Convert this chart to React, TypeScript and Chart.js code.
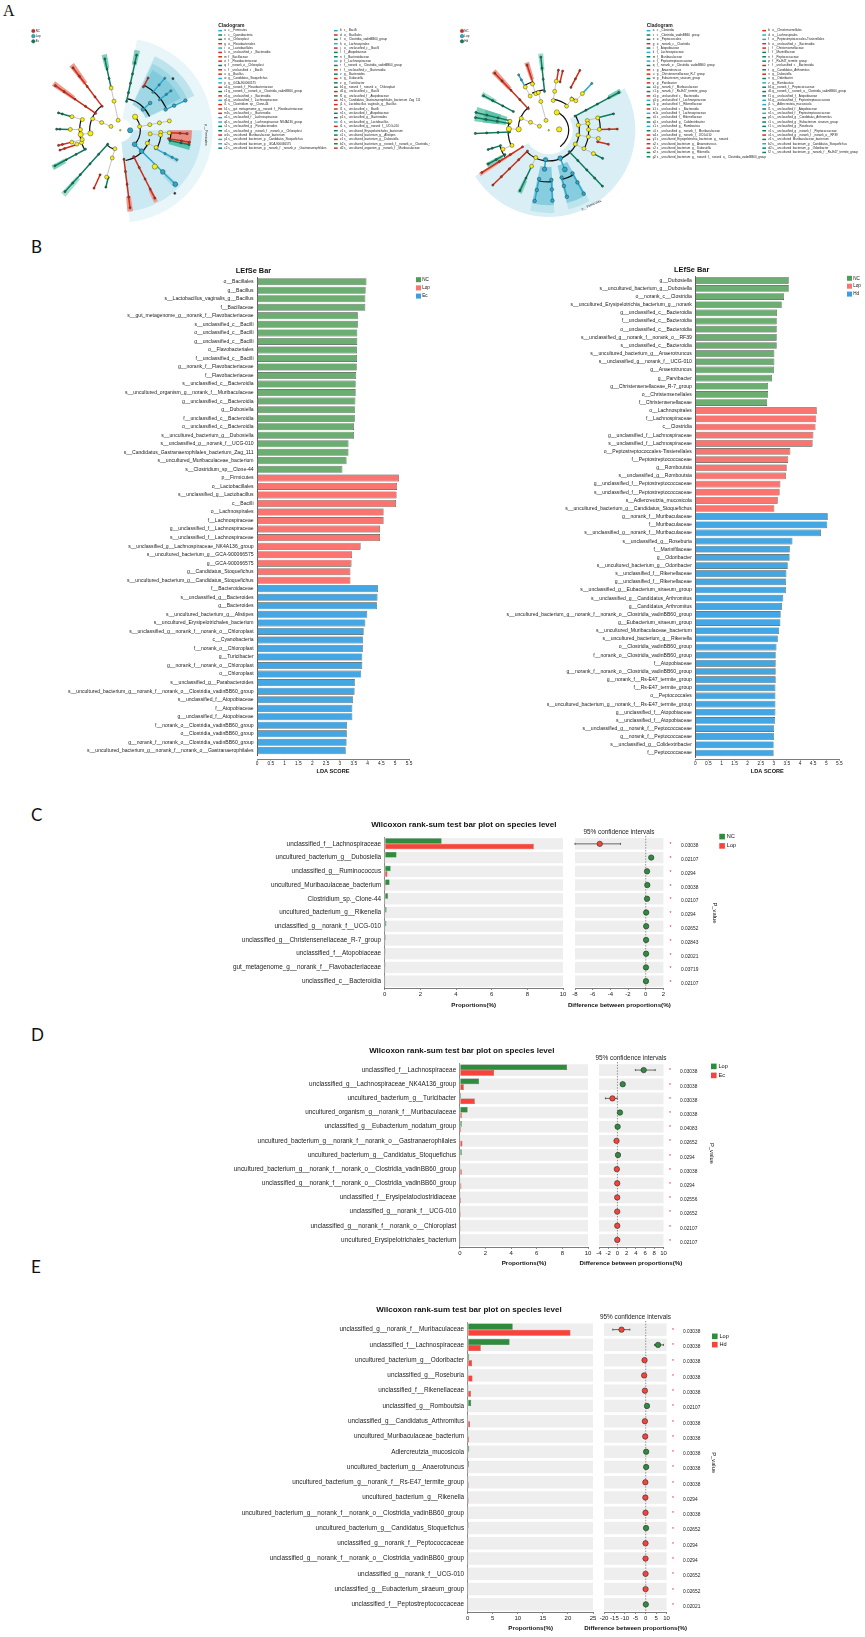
import React, { useEffect, useRef } from "react";
import { Chart, registerables } from "chart.js";

Chart.register(...registerables);
Chart.defaults.font.family = '"Liberation Sans", Arial, sans-serif';
Chart.defaults.color = "#222";

// ---------- Panel B: LEfSe, left ----------
const leftNcLabels = ["o__Bacillales","g__Bacillus","s__Lactobacillus_vaginalis_g__Bacillus","f__Bacillaceae","s__gut_metagenome_g__norank_f__Flavobacteriaceae","s__unclassified_c__Bacilli","o__unclassified_c__Bacilli","g__unclassified_c__Bacilli","o__Flavobacteriales","f__unclassified_c__Bacilli","g__norank_f__Flavobacteriaceae","f__Flavobacteriaceae","s__unclassified_c__Bacteroidia","s__uncultured_organism_g__norank_f__Muribaculaceae","g__unclassified_c__Bacteroidia","g__Dubosiella","f__unclassified_c__Bacteroidia","o__unclassified_c__Bacteroidia","s__uncultured_bacterium_g__Dubosiella","s__unclassified_g__norank_f__UCG-010","s__Candidatus_Gastranaerophilales_bacterium_Zag_111","s__uncultured_Muribaculaceae_bacterium","s__Clostridium_sp__Clone-44"];
const leftNcValues = [3.96,3.93,3.92,3.92,3.65,3.65,3.63,3.63,3.62,3.62,3.61,3.59,3.57,3.57,3.56,3.54,3.54,3.51,3.51,3.31,3.31,3.24,3.09];
const leftLopLabels = ["p__Firmicutes","o__Lactobacillales","s__unclassified_g__Lactobacillus","c__Bacilli","o__Lachnospirales","f__Lachnospiraceae","g__unclassified_f__Lachnospiraceae","s__unclassified_f__Lachnospiraceae","s__unclassified_g__Lachnospiraceae_NK4A136_group","s__uncultured_bacterium_g__GCA-900066575","g__GCA-900066575","g__Candidatus_Stoquefichus","s__uncultured_bacterium_g__Candidatus_Stoquefichus"];
const leftLopValues = [5.14,5.07,5.05,5.03,4.58,4.58,4.45,4.45,3.75,3.44,3.42,3.38,3.38];
const leftEcLabels = ["f__Bacteroidaceae","s__unclassified_g__Bacteroides","g__Bacteroides","s__uncultured_bacterium_g__Alistipes","s__uncultured_Erysipelotrichales_bacterium","s__unclassified_g__norank_f__norank_o__Chloroplast","c__Cyanobacteria","f__norank_o__Chloroplast","g__Turicibacter","g__norank_f__norank_o__Chloroplast","o__Chloroplast","s__unclassified_g__Parabacteroides","s__uncultured_bacterium_g__norank_f__norank_o__Clostridia_vadinBB60_group","s__unclassified_f__Atopobiaceae","f__Atopobiaceae","g__unclassified_f__Atopobiaceae","f__norank_o__Clostridia_vadinBB60_group","o__Clostridia_vadinBB60_group","g__norank_f__norank_o__Clostridia_vadinBB60_group","s__uncultured_bacterium_g__norank_f__norank_o__Gastranaerophilales"];
const leftEcValues = [4.38,4.36,4.34,3.99,3.92,3.86,3.84,3.83,3.81,3.81,3.77,3.54,3.53,3.47,3.45,3.45,3.26,3.25,3.24,3.21];

// ---------- Panel B: LEfSe, right ----------
const rightNcLabels = ["g__Dubosiella","s__uncultured_bacterium_g__Dubosiella","o__norank_c__Clostridia","s__uncultured_Erysipelotrichia_bacterium_g__norank","g__unclassified_c__Bacteroidia","f__unclassified_c__Bacteroidia","o__unclassified_c__Bacteroidia","s__unclassified_g__norank_f__norank_o__RF39","s__unclassified_c__Bacteroidia","s__uncultured_bacterium_g__Anaerotruncus","s__unclassified_g__norank_f__UCG-010","g__Anaerotruncus","g__Parvibacter","g__Christensenellaceae_R-7_group","o__Christensenellales","f__Christensenellaceae"];
const rightNcValues = [3.57,3.57,3.39,3.3,3.12,3.11,3.11,3.11,3.11,3.02,3.02,3.01,2.93,2.78,2.78,2.74];
const rightLopLabels = ["o__Lachnospirales","f__Lachnospiraceae","c__Clostridia","g__unclassified_f__Lachnospiraceae","s__unclassified_f__Lachnospiraceae","o__Peptostreptococcales-Tissierellales","f__Peptostreptococcaceae","g__Romboutsia","s__unclassified_g__Romboutsia","g__unclassified_f__Peptostreptococcaceae","s__unclassified_f__Peptostreptococcaceae","s__Adlercreutzia_mucosicola","s__uncultured_bacterium_g__Candidatus_Stoquefichus"];
const rightLopValues = [4.64,4.62,4.59,4.51,4.48,3.63,3.55,3.49,3.46,3.25,3.22,3.15,3.02];
const rightHdLabels = ["g__norank_f__Muribaculaceae","f__Muribaculaceae","s__unclassified_g__norank_f__Muribaculaceae","s__unclassified_g__Roseburia","f__Marinifilaceae","g__Odoribacter","s__uncultured_bacterium_g__Odoribacter","s__unclassified_f__Rikenellaceae","g__unclassified_f__Rikenellaceae","s__unclassified_g__Eubacterium_siraeum_group","s__unclassified_g__Candidatus_Arthromitus","g__Candidatus_Arthromitus","s__uncultured_bacterium_g__norank_f__norank_o__Clostridia_vadinBB60_group","g__Eubacterium_siraeum_group","s__uncultured_Muribaculaceae_bacterium","s__uncultured_bacterium_g__Rikenella","o__Clostridia_vadinBB60_group","f__norank_o__Clostridia_vadinBB60_group","f__Atopobiaceae","g__norank_f__norank_o__Clostridia_vadinBB60_group","g__norank_f__Rs-E47_termite_group","f__Rs-E47_termite_group","o__Peptococcales","s__uncultured_bacterium_g__norank_f__Rs-E47_termite_group","g__unclassified_f__Atopobiaceae","s__unclassified_f__Atopobiaceae","s__unclassified_g__norank_f__Peptococcaceae","g__norank_f__Peptococcaceae","s__unclassified_g__Colidextribacter","f__Peptococcaceae"];
const rightHdValues = [5.06,5.04,4.8,3.71,3.61,3.6,3.53,3.48,3.46,3.46,3.36,3.31,3.26,3.25,3.2,3.15,3.1,3.07,3.07,3.07,3.07,3.06,3.06,3.06,3.06,3.05,3.01,3.01,2.99,2.99];

// ---------- Panel C ----------
const cLabels = ["unclassified_f__Lachnospiraceae","uncultured_bacterium_g__Dubosiella","unclassified_g__Ruminococcus","uncultured_Muribaculaceae_bacterium","Clostridium_sp._Clone-44","uncultured_bacterium_g__Rikenella","unclassified_g__norank_f__UCG-010","unclassified_g__Christensenellaceae_R-7_group","unclassified_f__Atopobiaceae","gut_metagenome_g__norank_f__Flavobacteriaceae","unclassified_c__Bacteroidia"];
const cFirst = [3.19,0.66,0.33,0.27,0.18,0.1,0.09,0.06,0.05,0.05,0.04];
const cSecond = [8.36,0.02,0.15,0.05,0.01,0.01,0.01,0.01,0.01,0.01,0.01];
const cDiff = [-5.2,0.62,0.15,0.18,0.15,0.05,0.05,0.04,0.04,0.03,0.03];
const cLow = [-8,0.5,0.05,0.08,0.08,0.02,0.02,0.02,0.02,0.01,0.01];
const cHigh = [-2.85,0.8,0.25,0.28,0.22,0.08,0.08,0.06,0.06,0.05,0.05];
const cP = ["0.03038","0.02107","0.0294","0.03038","0.02107","0.0294","0.02652","0.02843","0.02021","0.03719","0.02107"];

// ---------- Panel D ----------
const dLabels = ["unclassified_f__Lachnospiraceae","unclassified_g__Lachnospiraceae_NK4A136_group","uncultured_bacterium_g__Turicibacter","uncultured_organism_g__norank_f__Muribaculaceae","unclassified_g__Eubacterium_nodatum_group","uncultured_bacterium_g__norank_f__norank_o__Gastranaerophilales","uncultured_bacterium_g__Candidatus_Stoquefichus","uncultured_bacterium_g__norank_f__norank_o__Clostridia_vadinBB60_group","unclassified_g__norank_f__norank_o__Clostridia_vadinBB60_group","unclassified_f__Erysipelatoclostridiaceae","unclassified_g__norank_f__UCG-010","unclassified_g__norank_f__norank_o__Chloroplast","uncultured_Erysipelotrichales_bacterium"];
const dFirst = [8.37,1.5,0.1,0.61,0.15,0.03,0.15,0.02,0.02,0.02,0.02,0.02,0.02];
const dSecond = [2.67,0.31,1.17,0.15,0.1,0.2,0.02,0.15,0.12,0.1,0.08,0.07,0.06];
const dDiff = [5.7,1.15,-1.08,0.55,0.04,-0.2,0.12,-0.13,-0.05,-0.05,-0.05,-0.04,-0.03];
const dLow = [3.9,0.85,-2.6,0.35,-0.02,-0.3,0.05,-0.2,-0.1,-0.1,-0.1,-0.08,-0.06];
const dHigh = [8.2,1.45,-0.05,0.75,0.1,-0.1,0.2,-0.06,-0.01,-0.01,-0.01,-0.01,-0.01];
const dP = ["0.03038","0.03038","0.03038","0.03038","0.04083","0.02652","0.0294","0.03038","0.0294","0.02556","0.02652","0.02107","0.02107"];

// ---------- Panel E ----------
const eLabels = ["unclassified_g__norank_f__Muribaculaceae","unclassified_f__Lachnospiraceae","uncultured_bacterium_g__Odoribacter","unclassified_g__Roseburia","unclassified_f__Rikenellaceae","unclassified_g__Romboutsia","unclassified_g__Candidatus_Arthromitus","uncultured_Muribaculaceae_bacterium","Adlercreutzia_mucosicola","uncultured_bacterium_g__Anaerotruncus","uncultured_bacterium_g__norank_f__Rs-E47_termite_group","uncultured_bacterium_g__Rikenella","uncultured_bacterium_g__norank_f__norank_o__Clostridia_vadinBB60_group","uncultured_bacterium_g__Candidatus_Stoquefichus","unclassified_g__norank_f__Peptococcaceae","unclassified_g__norank_f__norank_o__Clostridia_vadinBB60_group","unclassified_g__norank_f__UCG-010","unclassified_g__Eubacterium_siraeum_group","unclassified_f__Peptostreptococcaceae"];
const eFirst = [8.98,8.35,0.3,0.16,0.16,0.7,0.08,0.05,0.3,0.25,0.03,0.03,0.03,0.2,0.03,0.03,0.03,0.03,0.08];
const eSecond = [20.5,2.6,0.87,0.95,0.63,0.1,0.47,0.28,0.03,0.03,0.22,0.2,0.15,0.03,0.12,0.12,0.1,0.1,0.02];
const eDiff = [-11.6,5.9,-0.57,-0.76,-0.4,0.6,-0.4,-0.25,0.2,0.2,-0.18,-0.18,-0.1,0.15,-0.1,-0.1,-0.08,-0.08,0.05];
const eLow = [-15.8,4.2,-0.9,-1.1,-0.6,0.3,-0.6,-0.4,0.1,0.1,-0.3,-0.3,-0.2,0.05,-0.2,-0.2,-0.15,-0.15,0.01];
const eHigh = [-7.6,8.5,-0.3,-0.4,-0.2,0.9,-0.2,-0.1,0.3,0.3,-0.1,-0.1,-0.05,0.25,-0.05,-0.05,-0.03,-0.03,0.1];
const eP = ["0.03038","0.03038","0.03038","0.03038","0.03038","0.02107","0.03038","0.03038","0.03038","0.03038","0.03038","0.0294","0.03038","0.02652","0.0294","0.0294","0.02652","0.02652","0.02021"];

// ---------- Panel A: legend rows [colour key, code, taxon] ----------
const leftCladeCol1 = [["b","a","c__Firmicutes"],["g","c","c__Cyanobacteria"],["g","e","o__Chloroplast"],["r","g","o__Flavobacteriales"],["b","i","o__Lactobacillales"],["r","k","o__unclassified_c__Bacteroidia"],["r","m","f__Bacillaceae"],["r","o","f__Flavobacteriaceae"],["g","q","f__norank_o__Chloroplast"],["r","s","f__unclassified_c__Bacilli"],["r","u","g__Bacillus"],["b","w","g__Candidatus_Stoquefichus"],["b","y","g__GCA-900066575"],["r","a1","g__norank_f__Flavobacteriaceae"],["g","c1","g__norank_f__norank_o__Clostridia_vadinBB60_group"],["r","e1","g__unclassified_c__Bacteroidia"],["b","g1","g__unclassified_f__Lachnospiraceae"],["r","i1","s__Clostridium_sp__Clone-44"],["r","k1","s__gut_metagenome_g__norank_f__Flavobacteriaceae"],["r","m1","s__unclassified_c__Bacteroidia"],["b","o1","s__unclassified_f__Lachnospiraceae"],["b","q1","s__unclassified_g__Lachnospiraceae_NK4A136_group"],["g","s1","s__unclassified_g__Parabacteroides"],["g","u1","s__unclassified_g__norank_f__norank_o__Chloroplast"],["r","w1","s__uncultured_Muribaculaceae_bacterium"],["b","y1","s__uncultured_bacterium_g__Candidatus_Stoquefichus"],["b","a2","s__uncultured_bacterium_g__GCA-900066575"],["g","c2","s__uncultured_bacterium_g__norank_f__norank_o__Gastranaerophilales"]];
const leftCladeCol2 = [["b","b","c__Bacilli"],["r","d","o__Bacillales"],["g","f","o__Clostridia_vadinBB60_group"],["b","h","o__Lachnospirales"],["r","j","o__unclassified_c__Bacilli"],["g","l","f__Atopobiaceae"],["g","n","f__Bacteroidaceae"],["b","p","f__Lachnospiraceae"],["g","r","f__norank_o__Clostridia_vadinBB60_group"],["r","t","f__unclassified_c__Bacteroidia"],["g","v","g__Bacteroides"],["r","x","g__Dubosiella"],["g","z","g__Turicibacter"],["g","b1","g__norank_f__norank_o__Chloroplast"],["r","d1","g__unclassified_c__Bacilli"],["g","f1","g__unclassified_f__Atopobiaceae"],["r","h1","s__Candidatus_Gastranaerophilales_bacterium_Zag_111"],["r","j1","s__Lactobacillus_vaginalis_g__Bacillus"],["r","l1","s__unclassified_c__Bacilli"],["g","n1","s__unclassified_f__Atopobiaceae"],["g","p1","s__unclassified_g__Bacteroides"],["b","r1","s__unclassified_g__Lactobacillus"],["r","t1","s__unclassified_g__norank_f__UCG-010"],["g","v1","s__uncultured_Erysipelotrichales_bacterium"],["g","x1","s__uncultured_bacterium_g__Alistipes"],["r","z1","s__uncultured_bacterium_g__Dubosiella"],["g","b2","s__uncultured_bacterium_g__norank_f__norank_o__Clostridia_vadinBB60_group"],["r","d2","s__uncultured_organism_g__norank_f__Muribaculaceae"]];
const rightCladeCol1 = [["b","a","c__Clostridia"],["g","c","c__Clostridia_vadinBB60_group"],["g","e","o__Peptococcales"],["r","g","o__norank_c__Clostridia"],["g","i","f__Atopobiaceae"],["b","k","f__Lachnospiraceae"],["g","m","f__Muribaculaceae"],["b","o","f__Peptostreptococcaceae"],["g","q","f__norank_o__Clostridia_vadinBB60_group"],["r","s","g__Anaerotruncus"],["r","u","g__Christensenellaceae_R-7_group"],["g","w","g__Eubacterium_siraeum_group"],["r","y","g__Parvibacter"],["g","a1","g__norank_f__Muribaculaceae"],["g","c1","g__norank_f__Rs-E47_termite_group"],["r","e1","g__unclassified_c__Bacteroidia"],["b","g1","g__unclassified_f__Lachnospiraceae"],["g","i1","g__unclassified_f__Rikenellaceae"],["r","k1","s__unclassified_c__Bacteroidia"],["b","m1","s__unclassified_f__Lachnospiraceae"],["g","o1","s__unclassified_f__Rikenellaceae"],["g","q1","s__unclassified_g__Colidextribacter"],["b","s1","s__unclassified_g__Romboutsia"],["g","u1","s__unclassified_g__norank_f__Muribaculaceae"],["r","w1","s__unclassified_g__norank_f__UCG-010"],["r","y1","s__uncultured_Erysipelotrichia_bacterium_g__norank"],["r","a2","s__uncultured_bacterium_g__Anaerotruncus"],["r","c2","s__uncultured_bacterium_g__Dubosiella"],["g","e2","s__uncultured_bacterium_g__Rikenella"],["g","g2","s__uncultured_bacterium_g__norank_f__norank_o__Clostridia_vadinBB60_group"]];
const rightCladeCol2 = [["r","b","o__Christensenellales"],["b","d","o__Lachnospirales"],["b","f","o__Peptostreptococcales-Tissierellales"],["r","h","o__unclassified_c__Bacteroidia"],["r","j","f__Christensenellaceae"],["g","l","f__Marinifilaceae"],["g","n","f__Peptococcaceae"],["g","p","f__Rs-E47_termite_group"],["r","r","f__unclassified_c__Bacteroidia"],["g","t","g__Candidatus_Arthromitus"],["r","v","g__Dubosiella"],["g","x","g__Odoribacter"],["b","z","g__Romboutsia"],["g","b1","g__norank_f__Peptococcaceae"],["g","d1","g__norank_f__norank_o__Clostridia_vadinBB60_group"],["g","f1","g__unclassified_f__Atopobiaceae"],["b","h1","g__unclassified_f__Peptostreptococcaceae"],["b","j1","s__Adlercreutzia_mucosicola"],["g","l1","s__unclassified_f__Atopobiaceae"],["b","n1","s__unclassified_f__Peptostreptococcaceae"],["g","p1","s__unclassified_g__Candidatus_Arthromitus"],["g","r1","s__unclassified_g__Eubacterium_siraeum_group"],["g","t1","s__unclassified_g__Roseburia"],["g","v1","s__unclassified_g__norank_f__Peptococcaceae"],["r","x1","s__unclassified_g__norank_f__norank_o__RF39"],["g","z1","s__uncultured_Muribaculaceae_bacterium"],["b","b2","s__uncultured_bacterium_g__Candidatus_Stoquefichus"],["g","d2","s__uncultured_bacterium_g__Odoribacter"],["g","f2","s__uncultured_bacterium_g__norank_f__Rs-E47_termite_group"]];

// ---------- Panel A: tree. Rays [angle, node radii, kind, node size]; arcs [from, to, radius]; sectors [from, to, r0, r1, colour] ----------
const leftStems: any[] = [[0,[0],"y",0.8],[102,[32,93,135],"y"],[157,[31,62,92],"y"],[186,[92,122],"y",2.6],[164,[121,154],"y"],[179,[122,153],"y"],[194,[120,153],"y"],[198,[125,140],"y"],[254,[60,90,152],"y"],[11,[60,92,122,153],"y"],[-26,[92,122],"y"],[-7,[92,124],"y"],[-3,[124,150],"y"],[43,[62],"y",2.6],[-47,[155],"y",2.6]];
const leftRays: any[] = [[78,[92,120,150,180,215,240],"g"],[102,[135,165,195,228],"g"],[126.6,[93,130,170,210,243],"r"],[145,[92,130,170,210,243],"r"],[164,[154,185,197],"g"],[179,[153,185,195],"g"],[194,[153,183,195],"r"],[198.5,[140,180,195],"r"],[209,[122,155,190,229],"g"],[228.5,[58,100,140,185,220,256],"g"],[246,[152,198],"r"],[256,[152,183],"g"],[62.5,[153,184],"r"],[50,[155,185,212],"b"],[38.5,[153,180,198],"b"],[25,[153,182,220],"b",1.8],[43,[95,125],"b",1.8],[-45,[62,92,184,238],"b",2.4],[-83,[91,130,170,210,244],"r"],[-63.5,[92,130,170,205,237],"r"],[-28,[122,155,180,196],"b"],[-3,[150,183,205],"r"],[-10,[150,190,215],"r"],[-12,[155,190,215],"g"],[0,[30],"b",2.6],[45,[228],"k"],[-49.7,[258],"k"]];
const leftArcs: any[] = [[-47,45,60],[25,78,97],[26,62,153],[-80,-17,92],[-25,-7,123],[-12,-3,152],[127,187,92],[166,192,122],[195,209,122],[226,255,60]];
const leftSectors: any[] = [[-84,79.6,35,277,"#e8f6f9"],[-84,0,35,245,"#cbe9f2"],[25,65,85,245,"#bde4ec"],[26,64,85,222,"#9fd8e4"],[28,62,150,205,"#82cbdc"],[-13,0,150,215,"#e78e85"],[-16,-12,150,215,"#55c3ad"],[76,80,200,245,"#7fd0bb"],[100,104,190,232,"#7fd0bb"],[124.6,128.6,175,245,"#ee9a8e"],[143,147,170,245,"#ee9a8e"],[207,211,190,232,"#7fd0bb"],[226.5,230.5,190,258,"#a3e0cf"],[-47,-43,190,240,"#a6dbe6"],[-65,-62,200,240,"#ee9a8e"],[-85,-81,200,245,"#ee9a8e"],[-30,-26,150,196,"#a6dbe6"]];
const rightStems: any[] = [[0,[0],"y",0.8],[156,[31,61,92],"y"],[105,[32,93,122],"y"],[66,[61],"y",2.6],[5,[32],"y",2.6],[81.5,[94,123,155],"y"],[-9.5,[91,123,154],"y"],[-28,[92,122,155],"y"],[10,[92,122],"y"],[-115,[94,124],"y"],[178,[92,122],"y",2.6],[166.6,[122],"y"],[202.8,[122,152],"y"],[118,[121,153],"y"],[109,[121,153],"y"],[54,[93,120],"y"],[48,[124,154],"y"],[14.5,[122,155],"y"],[1,[122,155],"y"]];
const rightRays: any[] = [[96,[122,160,195,230],"g"],[118,[153,178,196],"b"],[108,[153,214],"r"],[81,[155,190],"r"],[77,[155,190],"r"],[63,[150,180,210],"r"],[48,[154,197],"b"],[132.8,[92,130,170,210,243],"r"],[151.6,[123,160,195,227],"g"],[166,[122,160,195,230],"g"],[170,[122,160,195,228],"g"],[182.5,[120,155,190,225],"g"],[198,[155,182,195],"g"],[209.6,[154,185,213],"g"],[212.8,[95,140,180,244],"r"],[225,[92,130,170,205,242],"r"],[245,[124,165,208],"g"],[-96,[92,122],"b",2.2],[-101,[155,190,225],"b",1.8],[-87,[155,185,220],"b",1.8],[-68,[94,132],"b",2.4],[-75,[153,180,215],"b",1.8],[-61.6,[153,185,225],"b",1.8],[-46.7,[92,130,170,205,240],"g"],[-13.5,[154,188],"r"],[-28,[155,187],"g"],[14.5,[155,205],"g"],[1,[155,185,210],"r"],[28.8,[92,130,170,210,245],"g"]];
const rightArcs: any[] = [[-55,67,60],[-136,28,92],[-25,11,120],[1,15,155],[130,178,92],[166.6,202.8,122],[198,211,154],[97,114,122],[109,118,153],[54,81,94],[45,56.4,120],[-101,-87,155],[-75,-61.6,153]];
const rightSectors: any[] = [[-148,29,72,260,"#d9eff5"],[-103,-86,110,248,"#bde4ec"],[-103,-86,110,225,"#87cde0"],[-76,-60,110,245,"#bde4ec"],[-76,-60,110,225,"#87cde0"],[162,173,130,225,"#7fd0bb"],[162,173,150,200,"#5fc2a8"],[94,98,180,232,"#a3e0cf"],[106,110,160,214,"#ee9a8e"],[131,135,170,243,"#ee9a8e"],[149.6,153.6,180,228,"#a3e0cf"],[207.6,211.6,160,213,"#7fd0bb"],[211.5,214,120,246,"#eeaaa0"],[243,247,165,208,"#7fd0bb"],[27,30.5,205,246,"#7fd0bb"]];

const CLADE: any = { r: "#cf2d18", g: "#0d7d5e", b: "#2aa9ca", k: "#333", y: "#f6ee0c" };
const GROUP_GREEN = "#2f8c3c", GROUP_RED = "#f8433a";

type Note = { t?: string; x: number; y: number; size?: number; bold?: boolean; align?: any; rot?: number; color?: string; rect?: number[] };

const notesPlugin = (notes: Note[], ox: number, oy: number) => ({
  id: "notes",
  afterDraw(chart: any) {
    const c = chart.ctx;
    for (const n of notes) {
      c.save();
      c.translate(n.x - ox, n.y - oy);
      if (n.rot) c.rotate((n.rot * Math.PI) / 180);
      c.fillStyle = n.color || "#111";
      if (n.rect) c.fillRect(0, 0, n.rect[0], n.rect[1]);
      else {
        c.font = `${n.bold ? "bold " : ""}${n.size || 6}px "Liberation Sans", Arial, sans-serif`;
        c.textAlign = n.align || "left";
        c.textBaseline = "middle";
        c.fillText(n.t, 0, 0);
      }
      c.restore();
    }
  },
});

const bandsPlugin = (n: number, h: number) => ({
  id: "bands",
  beforeDatasetsDraw(chart: any) {
    const { ctx, scales } = chart;
    ctx.save();
    ctx.fillStyle = "#eeeeee";
    for (let i = 0; i < n; i++) {
      const y = scales.y.getPixelForValue(i);
      ctx.fillRect(scales.x.left, y - h / 2, scales.x.right - scales.x.left, h);
    }
    ctx.restore();
  },
});

const ciPlugin = (low: number[], high: number[]) => ({
  id: "ci",
  beforeDatasetsDraw(chart: any) {
    const { ctx, scales } = chart;
    const x0 = scales.x.getPixelForValue(0);
    ctx.save();
    ctx.strokeStyle = "#777";
    ctx.lineWidth = 0.8;
    ctx.setLineDash([1.4, 1.4]);
    ctx.beginPath();
    ctx.moveTo(x0, chart.chartArea.top - 1);
    ctx.lineTo(x0, chart.chartArea.bottom);
    ctx.stroke();
    ctx.setLineDash([]);
    ctx.strokeStyle = "#444";
    low.forEach((l, i) => {
      const y = scales.y.getPixelForValue(i);
      const a = scales.x.getPixelForValue(l), b = scales.x.getPixelForValue(high[i]);
      ctx.beginPath();
      ctx.moveTo(a, y); ctx.lineTo(b, y);
      ctx.moveTo(a, y - 1); ctx.lineTo(a, y + 1);
      ctx.moveTo(b, y - 1); ctx.lineTo(b, y + 1);
      ctx.stroke();
    });
    ctx.restore();
  },
});

const dropAxis = (d: number) => ({
  id: "dropAxis",
  afterLayout(chart: any) {
    chart.scales.x.top += d;
    chart.scales.x.bottom += d;
  },
});

const fitX = (h: number) => (s: any) => { s.height = h; s.paddingLeft = 0; s.paddingRight = 0; };
const fitY = (w: number) => (s: any) => { s.width = w; s.paddingTop = 0; s.paddingBottom = 0; };

function lefse(p: any) {
  const labels = [...p.a, ...p.b, ...p.c];
  const data = [...p.av, ...p.bv, ...p.cv];
  const colors = [...p.a.map(() => "#6cae72"), ...p.b.map(() => "#fa7470"), ...p.c.map(() => "#44a6e2")];
  const top = p.y0 - p.step / 2, bottom = p.y0 + p.step * (labels.length - 0.5);
  const H = 782 - 255;
  const notes: Note[] = [
    { t: "LEfSe Bar", x: p.titleX, y: p.titleY, size: 7.4, bold: true, align: "center" },
    { t: "LDA SCORE", x: (p.x0 + p.x1) / 2, y: 771.7, size: 5.6, bold: true, align: "center" },
  ];
  [["#4f9d57"], ["#fa7470"], ["#3d9fe0"]].forEach((c, i) => {
    notes.push({ x: p.legX, y: p.legY + i * p.legStep - 2.5, rect: [5, 5], color: c[0] });
    notes.push({ t: p.names[i], x: p.legX + 6.2, y: p.legY + i * p.legStep, size: 4.6 });
  });
  return {
    left: p.left, top: 255, width: p.width, height: H,
    config: {
      type: "bar",
      data: { labels, datasets: [{ data, backgroundColor: colors, borderColor: "#3d4a40", borderWidth: 0.6, barPercentage: 0.82, categoryPercentage: 1 }] },
      options: {
        animation: false, responsive: false, indexAxis: "y",
        layout: { padding: { top: top - 255, right: p.left + p.width - p.x1, left: 0, bottom: 0 } },
        plugins: { legend: { display: false }, tooltip: { enabled: false } },
        scales: {
          x: { type: "linear", min: 0, max: 5.5, afterFit: fitX(255 + H - bottom),
            border: { color: "#444", width: 0.7 },
            grid: { drawOnChartArea: false, tickColor: "#444", tickLength: 1.6, tickWidth: 0.6 },
            ticks: { stepSize: 0.5, autoSkip: false, maxRotation: 0, padding: 0.5, font: { size: 4.8 }, callback: (v: any) => String(v) } },
          y: { afterFit: fitY(p.x0 - p.left),
            border: { color: "#333", width: 0.8 },
            grid: { display: false, drawTicks: false },
            ticks: { autoSkip: false, padding: 3.4, font: { size: 5.1 }, color: "#222" } },
        },
      },
      plugins: [notesPlugin(notes, p.left, 255), dropAxis(p.axisY - bottom)],
    },
  };
}

function wilcoxBars(p: any) {
  const n = p.labels.length;
  const top = p.y0 - p.step / 2, bottom = p.y0 + p.step * (n - 0.5);
  const cTop = top - 35, cH = bottom + 32 - cTop, left = 190, width = p.barR + 14 - left;
  const notes: Note[] = [
    { t: "Wilcoxon rank-sum test bar plot on species level", x: p.titleX, y: p.titleY, size: 8, bold: true, align: "center" },
    { t: "Proportions(%)", x: p.propX, y: p.axisLabelY, size: 6.2, bold: true, align: "center" },
  ];
  return {
    left, top: cTop, width, height: cH,
    config: {
      type: "bar",
      data: { labels: p.labels, datasets: [
        { label: p.names[0], data: p.first, backgroundColor: GROUP_GREEN, borderColor: "#1c5a26", borderWidth: 0.5, barPercentage: 1, categoryPercentage: 0.8 },
        { label: p.names[1], data: p.second, backgroundColor: GROUP_RED, borderColor: "#a82a22", borderWidth: 0.5, barPercentage: 1, categoryPercentage: 0.8 },
      ] },
      options: {
        animation: false, responsive: false, indexAxis: "y",
        layout: { padding: { top: top - cTop, right: left + width - p.barR, left: 0, bottom: 0 } },
        plugins: { legend: { display: false }, tooltip: { enabled: false } },
        scales: {
          x: { type: "linear", min: 0, max: p.max, afterFit: fitX(cTop + cH - bottom),
            border: { color: "#444", width: 0.7 },
            grid: { drawOnChartArea: false, tickColor: "#444", tickLength: 2, tickWidth: 0.6 },
            ticks: { stepSize: p.tick, autoSkip: false, maxRotation: 0, padding: 1, font: { size: 6 } } },
          y: { afterFit: fitY(p.barL - left),
            border: { color: "#666", width: 0.8 },
            grid: { display: false, drawTicks: false },
            ticks: { autoSkip: false, padding: 3.6, font: { size: 6.4 }, color: "#222" } },
        },
      },
      plugins: [bandsPlugin(n, p.step * 0.82), notesPlugin(notes, left, cTop)],
    },
  };
}

function wilcoxCi(p: any) {
  const n = p.labels.length;
  const top = p.y0 - p.step / 2, bottom = p.y0 + p.step * (n - 0.5);
  const cTop = top - 35, cH = bottom + 32 - cTop, left = p.ciL - 45, width = 770 - left;
  const notes: Note[] = [
    { t: "95% confidence intervals", x: p.ciTitleX, y: p.ciTitleY, size: 6.4, align: "center", color: "#222" },
    { t: "Difference between proportions(%)", x: p.diffX, y: p.axisLabelY, size: 6.2, bold: true, align: "center" },
    { t: "P_value", x: p.pvX, y: p.pvY, size: 5.8, rot: 90, align: "center" },
  ];
  p.names.forEach((name: string, i: number) => {
    notes.push({ x: p.legX, y: p.legY[i] - 2.8, rect: [5.6, 5.6], color: i ? GROUP_RED : GROUP_GREEN });
    notes.push({ t: name, x: p.legX + 7.5, y: p.legY[i], size: 5.6 });
  });
  p.p.forEach((v: string, i: number) => {
    const y = p.y0 + i * p.step + 1;
    notes.push({ t: "*", x: p.starX, y, size: 5, align: "center", color: "#e8222a" });
    notes.push({ t: v, x: p.pX, y: y + 1, size: 4.8, color: "#222" });
  });
  return {
    left, top: cTop, width, height: cH,
    config: {
      type: "scatter",
      data: { datasets: [{
        data: p.diff.map((v: number, i: number) => ({ x: v, y: i })),
        pointRadius: 2.7,
        pointBackgroundColor: p.diff.map((v: number) => (v >= 0 ? GROUP_GREEN : GROUP_RED)),
        pointBorderColor: "#2a2a2a", pointBorderWidth: 0.6,
      }] },
      options: {
        animation: false, responsive: false,
        layout: { padding: { top: top - cTop, right: left + width - p.ciR, left: p.ciL - left, bottom: 0 } },
        plugins: { legend: { display: false }, tooltip: { enabled: false } },
        scales: {
          x: { type: "linear", min: p.ciMin, max: p.ciMax, afterFit: fitX(cTop + cH - bottom),
            border: { color: "#444", width: 0.7 },
            grid: { drawOnChartArea: false, tickColor: "#444", tickLength: 2, tickWidth: 0.6 },
            ticks: { stepSize: p.ciTick, autoSkip: false, maxRotation: 0, padding: 1, font: { size: 6 } } },
          y: { type: "linear", reverse: true, min: -0.5, max: n - 0.5, display: false },
        },
      },
      plugins: [bandsPlugin(n, p.step * 0.82), ciPlugin(p.low, p.high), notesPlugin(notes, left, cTop)],
    },
  };
}

function cladogram(p: any) {
  const pt = (a: number, r: number) => ({
    x: p.cx + r * Math.cos((a * Math.PI) / 180),
    y: p.cy - r * Math.sin((a * Math.PI) / 180),
  });
  const toDs = (ray: any[]) => {
    const yellow = ray[2] === "y";
    return {
      data: ray[1].map((r: number) => pt(ray[0], r)),
      showLine: true,
      borderColor: yellow ? "#b5b5b5" : CLADE[ray[2]],
      borderWidth: yellow ? 0.8 : 1.5,
      pointRadius: ray[3] || (yellow ? 2 : 1.1),
      pointBackgroundColor: CLADE[ray[2]],
      pointBorderColor: "#222",
      pointBorderWidth: 0.4,
    };
  };
  const tree = {
    id: "tree",
    beforeDatasetsDraw(chart: any) {
      const { ctx, scales } = chart;
      const k = chart.width / p.w;
      const cx = scales.x.getPixelForValue(p.cx), cy = scales.y.getPixelForValue(p.cy);
      const rad = (d: number) => (d * Math.PI) / 180;
      ctx.save();
      p.sectors.forEach((s: any[]) => {
        ctx.fillStyle = s[4];
        ctx.beginPath();
        ctx.arc(cx, cy, s[3] * k, -rad(s[1]), -rad(s[0]), false);
        ctx.arc(cx, cy, s[2] * k, -rad(s[0]), -rad(s[1]), true);
        ctx.closePath();
        ctx.fill();
      });
      ctx.strokeStyle = "#111";
      ctx.lineWidth = 1.2;
      p.arcs.forEach((s: any[]) => {
        ctx.beginPath();
        ctx.arc(cx, cy, s[2] * k, -rad(s[1]), -rad(s[0]), false);
        ctx.stroke();
      });
      // Group key and the annotated-taxa list
      const text = (t: string, x: number, y: number, size: number, bold?: boolean) => {
        ctx.font = `${bold ? "bold " : ""}${size}px "Liberation Sans", Arial, sans-serif`;
        ctx.textBaseline = "middle";
        ctx.fillStyle = "#222";
        ctx.fillText(t, x * k, y * k);
      };
      text("Cladogram", p.c1, 77, 5, true);
      [p.col1, p.col2].forEach((col: any[], ci: number) => {
        const sx = ci ? p.c2 : p.c1;
        col.forEach((row: any[], i: number) => {
          const y = 92 + i * 13.05;
          ctx.fillStyle = CLADE[row[0]];
          ctx.fillRect(sx * k, (y - 2.2) * k, 11 * k, 4.4 * k);
          text(row[1], sx + 18, y, 3);
          text(row[2], sx + 30, y, 3);
        });
      });
      p.key.forEach((name: string, i: number) => {
        const y = (93 + i * 15.5) * k;
        ctx.fillStyle = [CLADE.r, CLADE.b, CLADE.g][i];
        ctx.beginPath();
        ctx.arc(p.keyX * k, y, 1.8, 0, Math.PI * 2);
        ctx.fill();
        ctx.strokeStyle = "#333"; ctx.lineWidth = 0.3; ctx.stroke();
        text(name, p.keyX + 7, 93 + i * 15.5, 3);
      });
      ctx.save();
      ctx.translate(p.annX * k, p.annY * k);
      ctx.rotate(rad(p.annRot));
      text("p__Firmicutes", 0, 0, 3.4);
      ctx.restore();
      ctx.restore();
    },
  };
  return {
    left: p.left, top: 0, width: p.w / 3, height: 225,
    config: {
      type: "scatter",
      data: { datasets: [...p.stems.map(toDs), ...p.rays.map(toDs)] },
      options: {
        animation: false, responsive: false,
        layout: { padding: 0 },
        plugins: { legend: { display: false }, tooltip: { enabled: false } },
        scales: {
          x: { type: "linear", min: 0, max: p.w, display: false },
          y: { type: "linear", reverse: true, min: 0, max: 675, display: false },
        },
      },
      plugins: [tree],
    },
  };
}

const build = () => [
  cladogram({ left: 0, w: 1290, cx: 355, cy: 393, stems: leftStems, rays: leftRays, arcs: leftArcs, sectors: leftSectors, col1: leftCladeCol1, col2: leftCladeCol2, c1: 655, c2: 1002, key: ["NC", "Lop", "Ec"], keyX: 100, annX: 618, annY: 373, annRot: 90 }),
  cladogram({ left: 430, w: 1305, cx: 350, cy: 393, stems: rightStems, rays: rightRays, arcs: rightArcs, sectors: rightSectors, col1: rightCladeCol1, col2: rightCladeCol2, c1: 650, c2: 997, key: ["NC", "Lop", "Hd"], keyX: 96, annX: 455, annY: 628, annRot: -24 }),
  lefse({ left: 0, width: 440, x0: 257, x1: 409, y0: 281.7, step: 8.53, axisY: 759, a: leftNcLabels, av: leftNcValues, b: leftLopLabels, bv: leftLopValues, c: leftEcLabels, cv: leftEcValues, titleX: 253.5, titleY: 270.7, legX: 416, legY: 279.7, legStep: 8.2, names: ["NC", "Lop", "Ec"] }),
  lefse({ left: 430, width: 435, x0: 695.3, x1: 839.3, y0: 280.3, step: 8.15, axisY: 759, a: rightNcLabels, av: rightNcValues, b: rightLopLabels, bv: rightLopValues, c: rightHdLabels, cv: rightHdValues, titleX: 691.7, titleY: 269.7, legX: 847, legY: 278.3, legStep: 7.9, names: ["NC", "Lop", "Hd"] }),
  ...[
    { labels: cLabels, first: cFirst, second: cSecond, diff: cDiff, low: cLow, high: cHigh, p: cP, names: ["NC", "Lop"], y0: 844, step: 13.8, barL: 384.7, barR: 563, max: 10, tick: 2, ciL: 574.5, ciR: 663.4, ciMin: -8, ciMax: 2, ciTick: 2, titleX: 463.8, titleY: 825, ciTitleX: 618.4, ciTitleY: 832.7, propX: 473.7, diffX: 618.8, axisLabelY: 1005.7, starX: 670, pX: 680.5, pvX: 714, pvY: 913, legX: 718.8, legY: [836.7, 846] },
    { labels: dLabels, first: dFirst, second: dSecond, diff: dDiff, low: dLow, high: dHigh, p: dP, names: ["Lop", "Ec"], y0: 1069.7, step: 14.2, barL: 459.8, barR: 588.7, max: 10, tick: 2, ciL: 599, ciR: 663.5, ciMin: -4, ciMax: 10, ciTick: 2, titleX: 461.8, titleY: 1050, ciTitleX: 631, ciTitleY: 1057.7, propX: 524, diffX: 631, axisLabelY: 1263, starX: 670, pX: 680, pvX: 712, pvY: 1153, legX: 711, legY: [1066, 1075] },
    { labels: eLabels, first: eFirst, second: eSecond, diff: eDiff, low: eLow, high: eHigh, p: eP, names: ["Lop", "Hd"], y0: 1330, step: 15.27, barL: 467.7, barR: 593.5, max: 25, tick: 5, ciL: 604, ciR: 666.6, ciMin: -20, ciMax: 10, ciTick: 5, titleX: 469, titleY: 1310, ciTitleX: 635.4, ciTitleY: 1318, propX: 530.7, diffX: 635.7, axisLabelY: 1628.7, starX: 673, pX: 683, pvX: 714, pvY: 1463, legX: 712, legY: [1336.7, 1345] },
  ].flatMap((p) => [wilcoxBars(p), wilcoxCi(p)]),
];

const panelLetters = [
  { t: "A", x: 3, y: 3, f: '"Liberation Serif", serif', s: 16 },
  { t: "B", x: 31, y: 238, f: "Lato, sans-serif", s: 17 },
  { t: "C", x: 31, y: 806, f: "Lato, sans-serif", s: 17 },
  { t: "D", x: 31, y: 1026, f: "Lato, sans-serif", s: 17 },
  { t: "E", x: 31, y: 1258, f: "Lato, sans-serif", s: 17 },
];

export default function App() {
  const hostRef = useRef<HTMLDivElement>(null);
  useEffect(() => {
    const host = hostRef.current!;
    const charts = build().map((spec: any) => {
      const canvas = document.createElement("canvas");
      canvas.width = spec.width;
      canvas.height = spec.height;
      canvas.style.position = "absolute";
      canvas.style.left = `${spec.left}px`;
      canvas.style.top = `${spec.top}px`;
      host.appendChild(canvas);
      return { canvas, chart: new Chart(canvas, spec.config) };
    });
    return () => {
      charts.forEach(({ canvas, chart }: any) => {
        chart.destroy();
        canvas.remove();
      });
    };
  }, []);
  return (
    <div ref={hostRef} style={{ position: "absolute", left: 0, top: 0, width: 865, height: 1637, background: "#fff", overflow: "hidden" }}>
      {panelLetters.map((l) => (
        <div key={l.t} style={{ position: "absolute", left: l.x, top: l.y, fontFamily: l.f, fontSize: l.s, lineHeight: 1, color: "#111" }}>{l.t}</div>
      ))}
    </div>
  );
}
